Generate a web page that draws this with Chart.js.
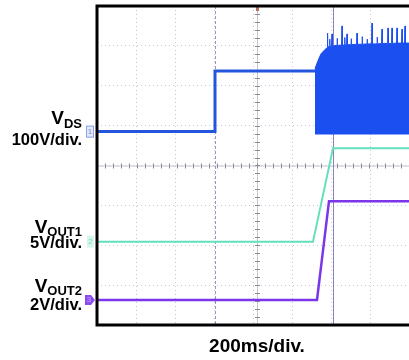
<!DOCTYPE html>
<html>
<head>
<meta charset="utf-8">
<script src="https://cdn.jsdelivr.net/npm/chart.js@4.4.1/dist/chart.umd.min.js"></script>
<style>
  html, body { margin: 0; padding: 0; background: #ffffff; }
  #wrap { width: 409px; height: 360px; position: relative; }
</style>
</head>
<body>
<div id="wrap"><canvas id="scope"></canvas></div>
<script>
// Time base: 200 ms per division, times in ms from the left edge of the screen
const timePerDiv = 200;
const timeMax = 1560;

// Channel 1: VDS (100 V/div)
const vdsTime  = [0, 590, 590, 1090];
const vdsVolts = [0, 0, 152, 152];

// Channel 1 switching burst: upper envelope (with ringing spikes) and lower envelope
const vdsBurstTime = [1090, 1105, 1120, 1140, 1150, 1152, 1154, 1163, 1164, 1165, 1173, 1175, 1177, 1190,
                      1200, 1201, 1202, 1223, 1225, 1227, 1238, 1239, 1240, 1248, 1250, 1252, 1270, 1271,
                      1272, 1298, 1300, 1302, 1325, 1326, 1327, 1350, 1351, 1352, 1373, 1375, 1377, 1400,
                      1401, 1402, 1423, 1425, 1427, 1453, 1455, 1457, 1473, 1475, 1477, 1498, 1500, 1502,
                      1523, 1525, 1527, 1538, 1540, 1542, 1560];
const vdsBurstTop  = [158, 178, 195, 206, 210, 247, 212, 214, 232, 214, 214, 245, 214, 216,
                      216, 234, 216, 217, 265, 217, 217, 236, 217, 218, 245, 218, 218, 233,
                      218, 219, 247, 219, 219, 238, 219, 220, 232, 220, 220, 272, 220, 220,
                      237, 220, 221, 257, 221, 221, 260, 221, 221, 260, 221, 222, 260, 222,
                      222, 257, 222, 222, 265, 222, 222];
const vdsBurstBottomTime  = [1090, 1560];
const vdsBurstBottomVolts = [-5, -5];

// Channel 2: VOUT1 (5 V/div)
const vout1Time  = [0, 1080, 1180, 1560];
const vout1Volts = [0, 0, 11.7, 11.7];

// Channel 3: VOUT2 (2 V/div)
const vout2Time  = [0, 1100, 1160, 1560];
const vout2Volts = [0, 0, 4.95, 4.95];

// Vertical settings: volts per division and ground-marker position (divisions above the bottom)
const voltsPerDiv   = { vds: 100, vout1: 5, vout2: 2 };
const groundDivs    = { vds: 4.85, vout1: 2.09, vout2: 0.63 };
const screenDivsY   = 8;

// Cursor times
const cursorDashed = 590;
const cursorSolid  = 1180;

// Left-hand channel captions and the time base caption
const channelCaptions = [
  { main: 'V', sub: 'DS',   scale: '100V/div.', vBase: 124, subBase: 128, scaleBase: 145 },
  { main: 'V', sub: 'OUT1', scale: '5V/div.',   vBase: 233, subBase: 236, scaleBase: 248 },
  { main: 'V', sub: 'OUT2', scale: '2V/div.',   vBase: 292, subBase: 295, scaleBase: 310 }
];
const timebaseCaption = '200ms/div.';

const colors = {
  vds: '#2455dc',
  burst: '#1c4ff0',
  vout1: '#66e0bc',
  vout2: '#7a36e8'
};

function pts(xs, ys) { return xs.map((x, i) => ({ x: x, y: ys[i] })); }
function axisFor(ch) {
  return {
    type: 'linear', display: false,
    min: -groundDivs[ch] * voltsPerDiv[ch],
    max: (screenDivsY - groundDivs[ch]) * voltsPerDiv[ch]
  };
}

const FONT = '"Liberation Sans", Arial, sans-serif';

const scopeDecor = {
  id: 'scopeDecor',
  beforeDatasetsDraw(chart) {
    const { ctx, chartArea: a, scales } = chart;
    const xs = scales.x, ys = scales.div;
    ctx.save();
    // centre graticule axes with minor ticks
    const cx = xs.getPixelForValue(4 * timePerDiv);
    const cy = ys.getPixelForValue(screenDivsY / 2);
    ctx.strokeStyle = '#c4c4ce';
    ctx.lineWidth = 1;
    ctx.beginPath();
    ctx.moveTo(a.left, cy + 0.5); ctx.lineTo(a.right, cy + 0.5);
    ctx.moveTo(cx + 0.5, a.top); ctx.lineTo(cx + 0.5, a.bottom);
    ctx.stroke();
    ctx.strokeStyle = '#8c8c98';
    ctx.beginPath();
    for (let t = 0; t <= timeMax; t += timePerDiv / 5) {
      const px = Math.round(xs.getPixelForValue(t)) + 0.5;
      ctx.moveTo(px, cy - 2); ctx.lineTo(px, cy + 3);
    }
    for (let d = 0; d <= screenDivsY; d += 0.2) {
      const py = Math.round(ys.getPixelForValue(d)) + 0.5;
      ctx.moveTo(cx - 2, py); ctx.lineTo(cx + 3, py);
    }
    ctx.stroke();
    // cursors
    const xd = Math.round(xs.getPixelForValue(cursorDashed)) + 0.5;
    ctx.strokeStyle = '#9c94c8';
    ctx.setLineDash([3, 2]);
    ctx.beginPath(); ctx.moveTo(xd, a.top); ctx.lineTo(xd, a.bottom); ctx.stroke();
    ctx.setLineDash([]);
    const xsld = Math.round(xs.getPixelForValue(cursorSolid)) + 0.5;
    ctx.strokeStyle = '#8a80bc';
    ctx.beginPath(); ctx.moveTo(xsld, a.top); ctx.lineTo(xsld, a.bottom); ctx.stroke();
    // trigger marker
    ctx.fillStyle = '#b0705a';
    ctx.fillRect(cx - 1, a.top, 3, 5);
    ctx.restore();
  },
  afterDraw(chart) {
    const { ctx, chartArea: a, scales } = chart;
    ctx.save();
    // screen frame (left, top, bottom)
    ctx.strokeStyle = '#000000';
    ctx.lineWidth = 3;
    ctx.beginPath();
    ctx.moveTo(a.right + 2, a.top);
    ctx.lineTo(a.left, a.top);
    ctx.lineTo(a.left, a.bottom);
    ctx.lineTo(a.right + 2, a.bottom);
    ctx.stroke();

    // ground markers
    const g1 = scales.yVds.getPixelForValue(0);
    ctx.fillStyle = '#e4e8fb';
    ctx.fillRect(86, g1 - 6, 8, 12);
    ctx.strokeStyle = '#8ea2e8';
    ctx.lineWidth = 1;
    ctx.strokeRect(86.5, g1 - 5.5, 7, 11);
    ctx.fillStyle = '#6f86e0';
    ctx.font = '8px ' + FONT;
    ctx.textAlign = 'center'; ctx.textBaseline = 'middle';
    ctx.fillText('1', 90, g1);

    const g2 = scales.yOut1.getPixelForValue(0);
    ctx.fillStyle = '#d6f6ea';
    ctx.fillRect(87, g2 - 6, 7, 12);
    ctx.fillStyle = '#7fd8b8';
    ctx.fillText('2', 90.5, g2);

    const g3 = scales.yOut2.getPixelForValue(0);
    ctx.fillStyle = '#8a4cf0';
    ctx.beginPath();
    ctx.moveTo(85, g3 - 5); ctx.lineTo(91, g3 - 5); ctx.lineTo(95, g3); ctx.lineTo(91, g3 + 5); ctx.lineTo(85, g3 + 5);
    ctx.closePath(); ctx.fill();
    ctx.fillStyle = '#c8a8ff';
    ctx.fillText('3', 89, g3);

    // channel captions
    ctx.fillStyle = '#000000';
    ctx.textBaseline = 'alphabetic';
    const rightEdge = 82;
    channelCaptions.forEach(c => {
      ctx.font = 'bold 19px ' + FONT;
      const wV = ctx.measureText(c.main).width;
      ctx.font = 'bold 13px ' + FONT;
      const wS = ctx.measureText(c.sub).width;
      const x0 = rightEdge - wV - wS;
      ctx.textAlign = 'left';
      ctx.font = 'bold 19px ' + FONT;
      ctx.fillText(c.main, x0, c.vBase);
      ctx.font = 'bold 13px ' + FONT;
      ctx.fillText(c.sub, x0 + wV, c.subBase);
      ctx.textAlign = 'right';
      ctx.font = 'bold 16.5px ' + FONT;
      ctx.fillText(c.scale, rightEdge, c.scaleBase);
    });

    ctx.textAlign = 'center';
    ctx.font = 'bold 19px ' + FONT;
    ctx.fillText(timebaseCaption, scales.x.getPixelForValue(4 * timePerDiv), 352);
    ctx.restore();
  }
};

new Chart(document.getElementById('scope'), {
  type: 'line',
  data: {
    datasets: [
      { label: 'VDS', data: pts(vdsTime, vdsVolts), yAxisID: 'yVds',
        borderColor: colors.vds, borderWidth: 3, pointRadius: 0, fill: false, tension: 0 },
      { label: 'VDS burst bottom', data: pts(vdsBurstBottomTime, vdsBurstBottomVolts), yAxisID: 'yVds',
        borderColor: colors.burst, borderWidth: 2, pointRadius: 0, fill: false, tension: 0 },
      { label: 'VDS burst', data: pts(vdsBurstTime, vdsBurstTop), yAxisID: 'yVds',
        borderColor: colors.burst, backgroundColor: colors.burst, borderWidth: 1, pointRadius: 0,
        fill: { target: 1 }, tension: 0 },
      { label: 'VOUT1', data: pts(vout1Time, vout1Volts), yAxisID: 'yOut1',
        borderColor: colors.vout1, borderWidth: 2, pointRadius: 0, fill: false, tension: 0 },
      { label: 'VOUT2', data: pts(vout2Time, vout2Volts), yAxisID: 'yOut2',
        borderColor: colors.vout2, borderWidth: 2.5, pointRadius: 0, fill: false, tension: 0 }
    ]
  },
  options: {
    responsive: true,
    maintainAspectRatio: false,
    animation: false,
    layout: { padding: { left: 97, top: 6, right: 0, bottom: 35 } },
    plugins: { legend: { display: false }, tooltip: { enabled: false } },
    scales: {
      x: {
        type: 'linear', min: 0, max: timeMax,
        ticks: { display: false, stepSize: timePerDiv },
        border: { display: false, dash: [1, 3] },
        grid: { color: '#c8c8d4', drawTicks: false, lineWidth: 1 }
      },
      div: {
        type: 'linear', position: 'left', min: 0, max: screenDivsY,
        ticks: { display: false, stepSize: 1 },
        border: { display: false, dash: [1, 3] },
        grid: { color: '#c8c8d4', drawTicks: false, lineWidth: 1 }
      },
      yVds: axisFor('vds'),
      yOut1: axisFor('vout1'),
      yOut2: axisFor('vout2')
    }
  },
  plugins: [scopeDecor]
});
</script>
</body>
</html>
